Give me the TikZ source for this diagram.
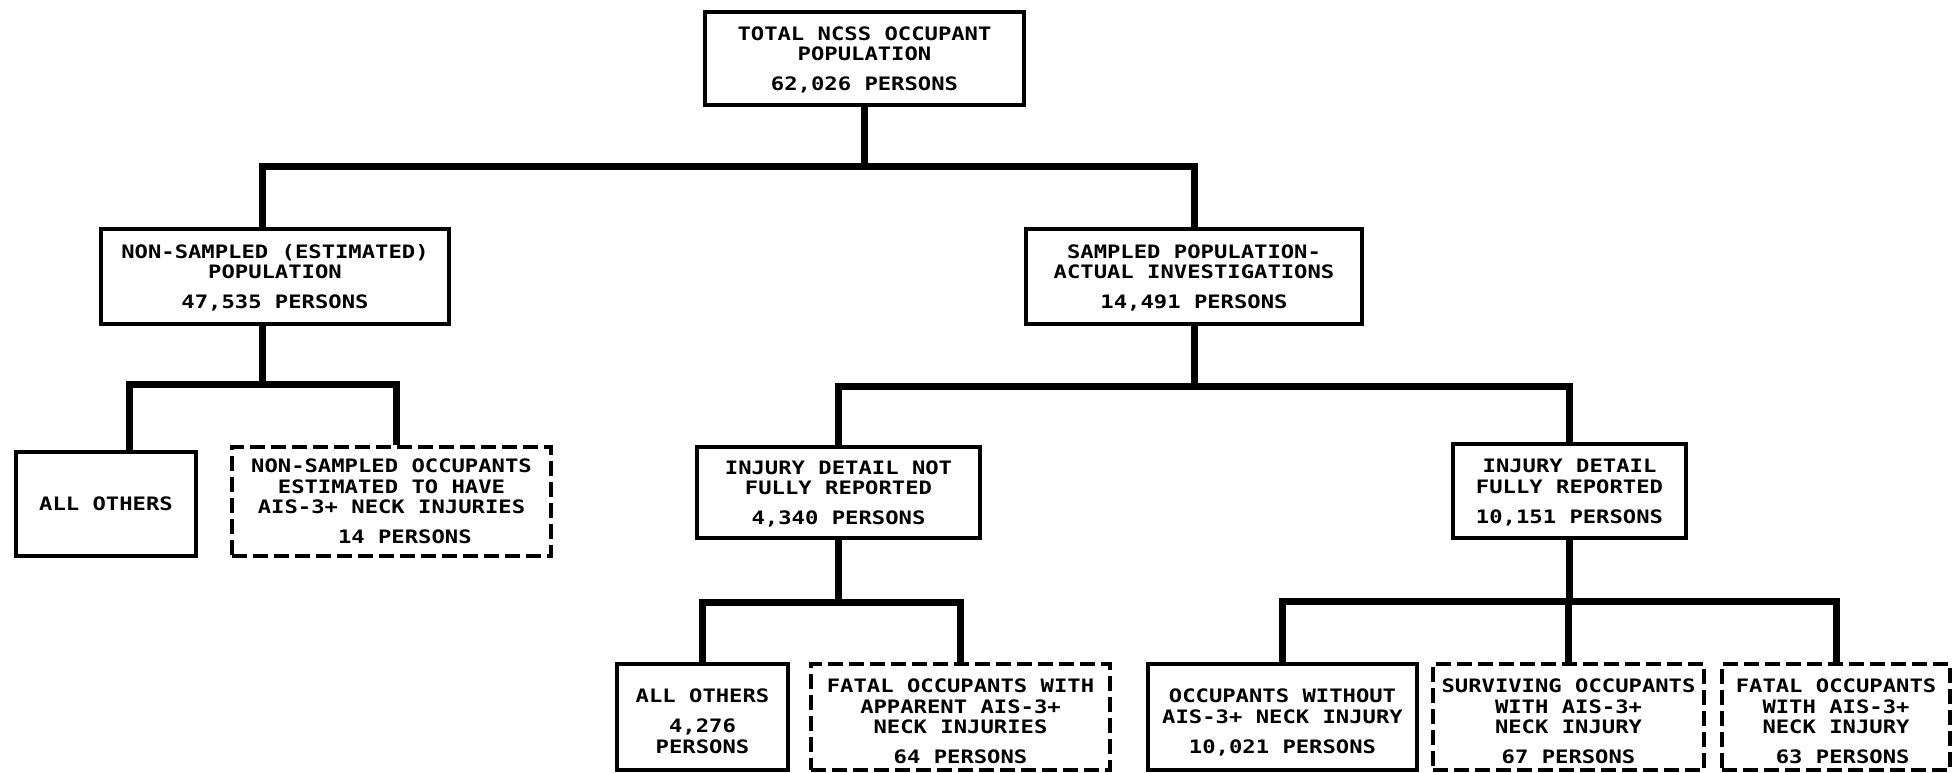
\documentclass[tikz,border=0pt]{standalone}
\usepackage{fontspec}
\newfontfamily\lpfont{DejaVu Sans Mono}[FakeStretch=1.2]
\tikzset{
  conn/.style={line width=7pt, line join=miter},
  box/.style={draw, line width=4pt, inner sep=0pt, align=center, text depth=0pt,
    font=\lpfont\bfseries\fontsize{18.5}{20.5}\selectfont},
  dbox/.style={box, line width=3.6pt, dash pattern=on 15pt off 6pt},
  sz/.style 2 args={minimum width=#1pt, minimum height=#2pt}
}
\newcommand{\gp}{\\[9.5pt]}
\newcommand{\lo}{\rule{0pt}{22pt}}
\begin{document}
\begin{tikzpicture}[x=1pt,y=-1pt]
\useasboundingbox (0,0) rectangle (1959,772);
% nodes
\node[box, sz={319}{93}] (top) at (864.5,58.5) {TOTAL NCSS OCCUPANT\\POPULATION\gp 62,026 PERSONS};
\node[box, sz={348}{95}] (ns) at (275,276.5) {NON-SAMPLED (ESTIMATED)\\POPULATION\gp 47,535 PERSONS};
\node[box, sz={336}{95}] (ss) at (1194,276.5) {SAMPLED POPULATION-\\ACTUAL INVESTIGATIONS\gp 14,491 PERSONS};
\node[box, sz={180}{104}] (ao1) at (106,504) {ALL OTHERS};
\node[dbox, sz={319}{109}] (nsd) at (391.5,501.5) {NON-SAMPLED OCCUPANTS\\ESTIMATED TO HAVE\\AIS-3+ NECK INJURIES\gp \ \ 14 PERSONS};
\node[box, sz={283}{91}] (inn) at (838.5,492.5) {INJURY DETAIL NOT\\FULLY REPORTED\gp 4,340 PERSONS};
\node[box, sz={233}{94}] (inf) at (1569.5,491) {INJURY DETAIL\\FULLY REPORTED\gp 10,151 PERSONS};
\node[box, sz={171}{106}] (ao2) at (702.5,717) {\lo ALL OTHERS\gp 4,276\\PERSONS};
\node[dbox, sz={299}{106}] (fa) at (960.5,717) {\lo FATAL OCCUPANTS WITH\\APPARENT AIS-3+\\NECK INJURIES\gp 64 PERSONS};
\node[box, sz={269}{106}] (ow) at (1282.5,717) {\lo OCCUPANTS WITHOUT\\AIS-3+ NECK INJURY\gp 10,021 PERSONS};
\node[dbox, sz={271}{106}] (sv) at (1568.5,717) {\lo SURVIVING OCCUPANTS\\WITH AIS-3+\\NECK INJURY\gp 67 PERSONS};
\node[dbox, sz={228}{106}] (fo) at (1836,717) {\lo FATAL OCCUPANTS\\WITH AIS-3+\\NECK INJURY\gp \ 63 PERSONS};
% junction coordinates
\coordinate (j0) at (866,166);
\coordinate (nsx) at (262,0);
\coordinate (j1) at (262,384);
\coordinate (ao1x) at (129,0);
\coordinate (nsdx) at (396,0);
\coordinate (j2) at (1194,386);
\coordinate (j3) at (838.5,602);
\coordinate (j4) at (1569.5,601);
% connectors
\draw[conn] (top.south) -- (top.south |- j0);
\draw[conn] (ns.north -| nsx) |- (j0) -| (ss.north);
\draw[conn] (ns.south -| nsx) -- (j1);
\draw[conn] (ao1.north -| ao1x) |- (j1) -| (nsd.north -| nsdx);
\draw[conn] (ss.south) -- (ss.south |- j2);
\draw[conn] (inn.north) |- (j2) -| (inf.north);
\draw[conn] (inn.south) -- (inn.south |- j3);
\draw[conn] (ao2.north) |- (j3) -| (fa.north);
\draw[conn] (inf.south) -- (inf.south |- j4);
\draw[conn] (ow.north) |- (j4) -| (fo.north);
\draw[conn] (sv.north) -- (sv.north |- j4);
\end{tikzpicture}
\end{document}
